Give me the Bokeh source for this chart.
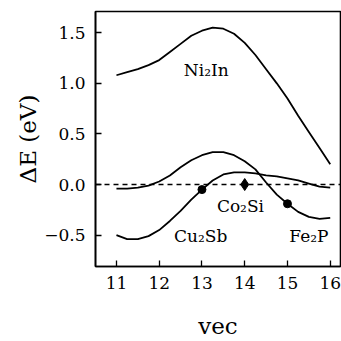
from bokeh.plotting import figure
from bokeh.models import FixedTicker, Range1d, ColumnDataSource, Span
from bokeh.core.properties import value
from bokeh.embed import file_html
from bokeh.resources import INLINE

vec = [11.0, 11.25, 11.5, 11.75, 12.0, 12.25, 12.5, 12.75, 13.0, 13.25, 13.5,
       13.75, 14.0, 14.25, 14.5, 14.75, 15.0, 15.25, 15.5, 15.75, 16.0]
ni2in = [1.08, 1.11, 1.14, 1.18, 1.23, 1.31, 1.39, 1.47, 1.52, 1.55, 1.54,
         1.49, 1.40, 1.28, 1.14, 1.00, 0.85, 0.68, 0.52, 0.36, 0.20]
fe2p = [-0.04, -0.04, -0.03, -0.01, 0.03, 0.09, 0.17, 0.24, 0.29, 0.32, 0.32,
        0.29, 0.23, 0.15, 0.02, -0.10, -0.19, -0.27, -0.32, -0.34, -0.33]
cu2sb = [-0.50, -0.54, -0.54, -0.51, -0.45, -0.36, -0.26, -0.15, -0.05, 0.04, 0.10,
         0.12, 0.12, 0.11, 0.09, 0.08, 0.06, 0.04, 0.01, -0.02, -0.03]

circle_x = [13.0, 15.0]
circle_y = [-0.05, -0.19]
diamond_x = [14.0]
diamond_y = [0.0]

label_text = ["Ni\u2082In", "Co\u2082Si", "Cu\u2082Sb", "Fe\u2082P"]
label_x = [13.1, 13.9, 12.97, 15.5]
label_y = [1.13, -0.21, -0.51, -0.51]

x_ticks = [11, 12, 13, 14, 15, 16]
y_ticks = [-0.5, 0.0, 0.5, 1.0, 1.5]
y_tick_labels = ["\u22120.5", "0.0", "0.5", "1.0", "1.5"]

FONT = "DejaVu Serif"

p = figure(width=341, height=341, output_backend="svg", toolbar_location=None,
           x_range=Range1d(10.51, 16.24), y_range=Range1d(-0.81, 1.71))
p.min_border_left = 95
p.min_border_right = 1
p.min_border_top = 11
p.min_border_bottom = 71
p.grid.visible = False
p.background_fill_color = "white"
p.border_fill_color = "white"
p.outline_line_color = "black"
p.outline_line_width = 1.6

for ax in (p.xaxis[0], p.yaxis[0]):
    ax.axis_line_width = 1.6
    ax.axis_line_color = "black"
    ax.major_tick_in = 6
    ax.major_tick_out = 0
    ax.major_tick_line_width = 1.3
    ax.minor_tick_in = 0
    ax.minor_tick_out = 0
    ax.major_label_text_font = FONT
    ax.major_label_text_font_size = "17px"
    ax.major_label_text_color = "black"
    ax.axis_label_text_font = FONT
    ax.axis_label_text_font_size = "23px"
    ax.axis_label_text_font_style = "normal"
    ax.axis_label_text_color = "black"

p.xaxis.ticker = FixedTicker(ticks=x_ticks)
p.yaxis.ticker = FixedTicker(ticks=y_ticks)
p.yaxis.major_label_overrides = {t: s for t, s in zip(y_ticks, y_tick_labels)}
p.xaxis.axis_label = "vec"
p.yaxis.axis_label = "\u0394E (eV)"
p.xaxis.major_label_standoff = 10
p.xaxis.axis_label_standoff = 21
p.yaxis.major_label_standoff = 10
p.yaxis.axis_label_standoff = 0

p.add_layout(Span(location=0, dimension="width", line_color="black",
                  line_width=1.6, line_dash="5 4"))

for ys in (ni2in, fe2p, cu2sb):
    p.line(vec, ys, line_color="black", line_width=1.8)

p.scatter(circle_x, circle_y, marker="circle", size=8, color="black")
p.scatter(diamond_x, diamond_y, marker="diamond", size=12, color="black")

src = ColumnDataSource(dict(x=label_x, y=label_y, t=label_text))
p.text(x="x", y="y", text="t", source=src, text_font=value(FONT),
       text_font_size="17px", text_align="center", text_baseline="middle",
       text_color="black")

open("out.html", "w").write(file_html(p, INLINE))
